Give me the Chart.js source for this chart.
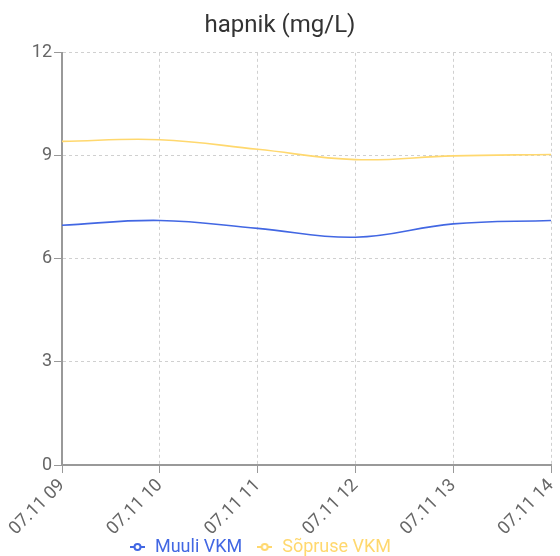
<!DOCTYPE html>
<html>
<head>
<meta charset="utf-8">
<script src="https://cdn.jsdelivr.net/npm/chart.js"></script>
<style>
  html, body { margin: 0; padding: 0; background: #fff; }
  #wrap { width: 560px; height: 556px; }
</style>
</head>
<body>
<div id="wrap"><canvas id="myChart"></canvas></div>
<script>
const labels = ['07.11 09', '07.11 10', '07.11 11', '07.11 12', '07.11 13', '07.11 14'];
const muuli = [6.98, 7.12, 6.89, 6.63, 7.02, 7.12];
const sopruse = [9.42, 9.47, 9.19, 8.89, 9.0, 9.04];
const yTicks = [0, 3, 6, 9, 12];

const blue = '#4267e3';
const yellow = '#ffd86e';

// legend icon: short line with a hollow circle
function legendIcon(color) {
    const c = document.createElement('canvas');
    c.width = 15; c.height = 10;
    const ctx = c.getContext('2d');
    ctx.strokeStyle = color;
    ctx.lineWidth = 2;
    ctx.beginPath();
    ctx.moveTo(0, 5);
    ctx.lineTo(15, 5);
    ctx.stroke();
    ctx.fillStyle = '#fff';
    ctx.beginPath();
    ctx.arc(7.5, 5, 3, 0, Math.PI * 2);
    ctx.fill();
    ctx.stroke();
    return c;
}

Chart.defaults.font.family = 'Roboto, "Noto Sans", sans-serif';

const data = {
    labels: labels,
    datasets: [{
        label: 'Muuli VKM',
        data: muuli,
        borderColor: blue,
        backgroundColor: blue,
        borderWidth: 1.6,
        pointRadius: 0,
        tension: 0.4
    }, {
        label: 'Sõpruse VKM',
        data: sopruse,
        borderColor: yellow,
        backgroundColor: yellow,
        borderWidth: 1.6,
        pointRadius: 0,
        tension: 0.4
    }]
};

// pull the legend closer to the bottom edge, and let the x labels run under it
const tightLayout = {
    id: 'tightLayout',
    beforeLayout(chart) {
        const lg = chart.legend;
        if (lg && !lg._tight) {
            const fit = lg.fit;
            lg.fit = function() {
                fit.call(this);
                this.height -= 10;
            };
            lg._tight = true;
        }
    },
    afterLayout(chart) {
        chart.scales.x.bottom = chart.height;
        chart.legend.right -= 40; // legend sits a bit left of centre
    }
};

const config = {
    type: 'line',
    data,
    options: {
        responsive: true,
        maintainAspectRatio: false,
        animation: false,
        layout: { padding: 0 },
        plugins: {
            title: {
                display: true,
                text: 'hapnik (mg/L)',
                color: '#333',
                font: { size: 24, weight: 'normal' },
                padding: { top: 12, bottom: 12 }
            },
            legend: {
                position: 'bottom',
                labels: {
                    usePointStyle: true,
                    pointStyleWidth: 17,
                    font: { size: 18 },
                    padding: 14,
                    generateLabels(chart) {
                        return chart.data.datasets.map((ds, i) => ({
                            text: ds.label,
                            fontColor: ds.borderColor,
                            pointStyle: legendIcon(ds.borderColor),
                            strokeStyle: ds.borderColor,
                            fillStyle: '#fff',
                            hidden: !chart.isDatasetVisible(i),
                            datasetIndex: i
                        }));
                    }
                }
            },
            tooltip: { enabled: false }
        },
        scales: {
            x: {
                afterFit(scale) {
                    scale.height = 59;
                    scale.paddingLeft = 0;
                    scale.paddingRight = 9;
                },
                grid: {
                    color: '#d0d0d0',
                    tickColor: '#999',
                    tickLength: 8
                },
                border: { color: '#999', width: 2, dash: [3, 3] },
                ticks: {
                    color: '#666',
                    font: { size: 18 },
                    maxRotation: 45,
                    minRotation: 45,
                    padding: 2
                }
            },
            y: {
                min: 0,
                max: 12,
                afterBuildTicks(axis) {
                    axis.ticks = yTicks.map(v => ({ value: v }));
                },
                afterFit(scale) {
                    scale.width = 62;
                },
                grid: {
                    color: '#d0d0d0',
                    tickColor: '#999',
                    tickLength: 8
                },
                border: { color: '#999', width: 2, dash: [3, 3] },
                ticks: {
                    color: '#666',
                    font: { size: 18 },
                    padding: 2
                }
            }
        }
    },
    plugins: [tightLayout]
};

const myChart = new Chart(document.getElementById('myChart'), config);
</script>
</body>
</html>
